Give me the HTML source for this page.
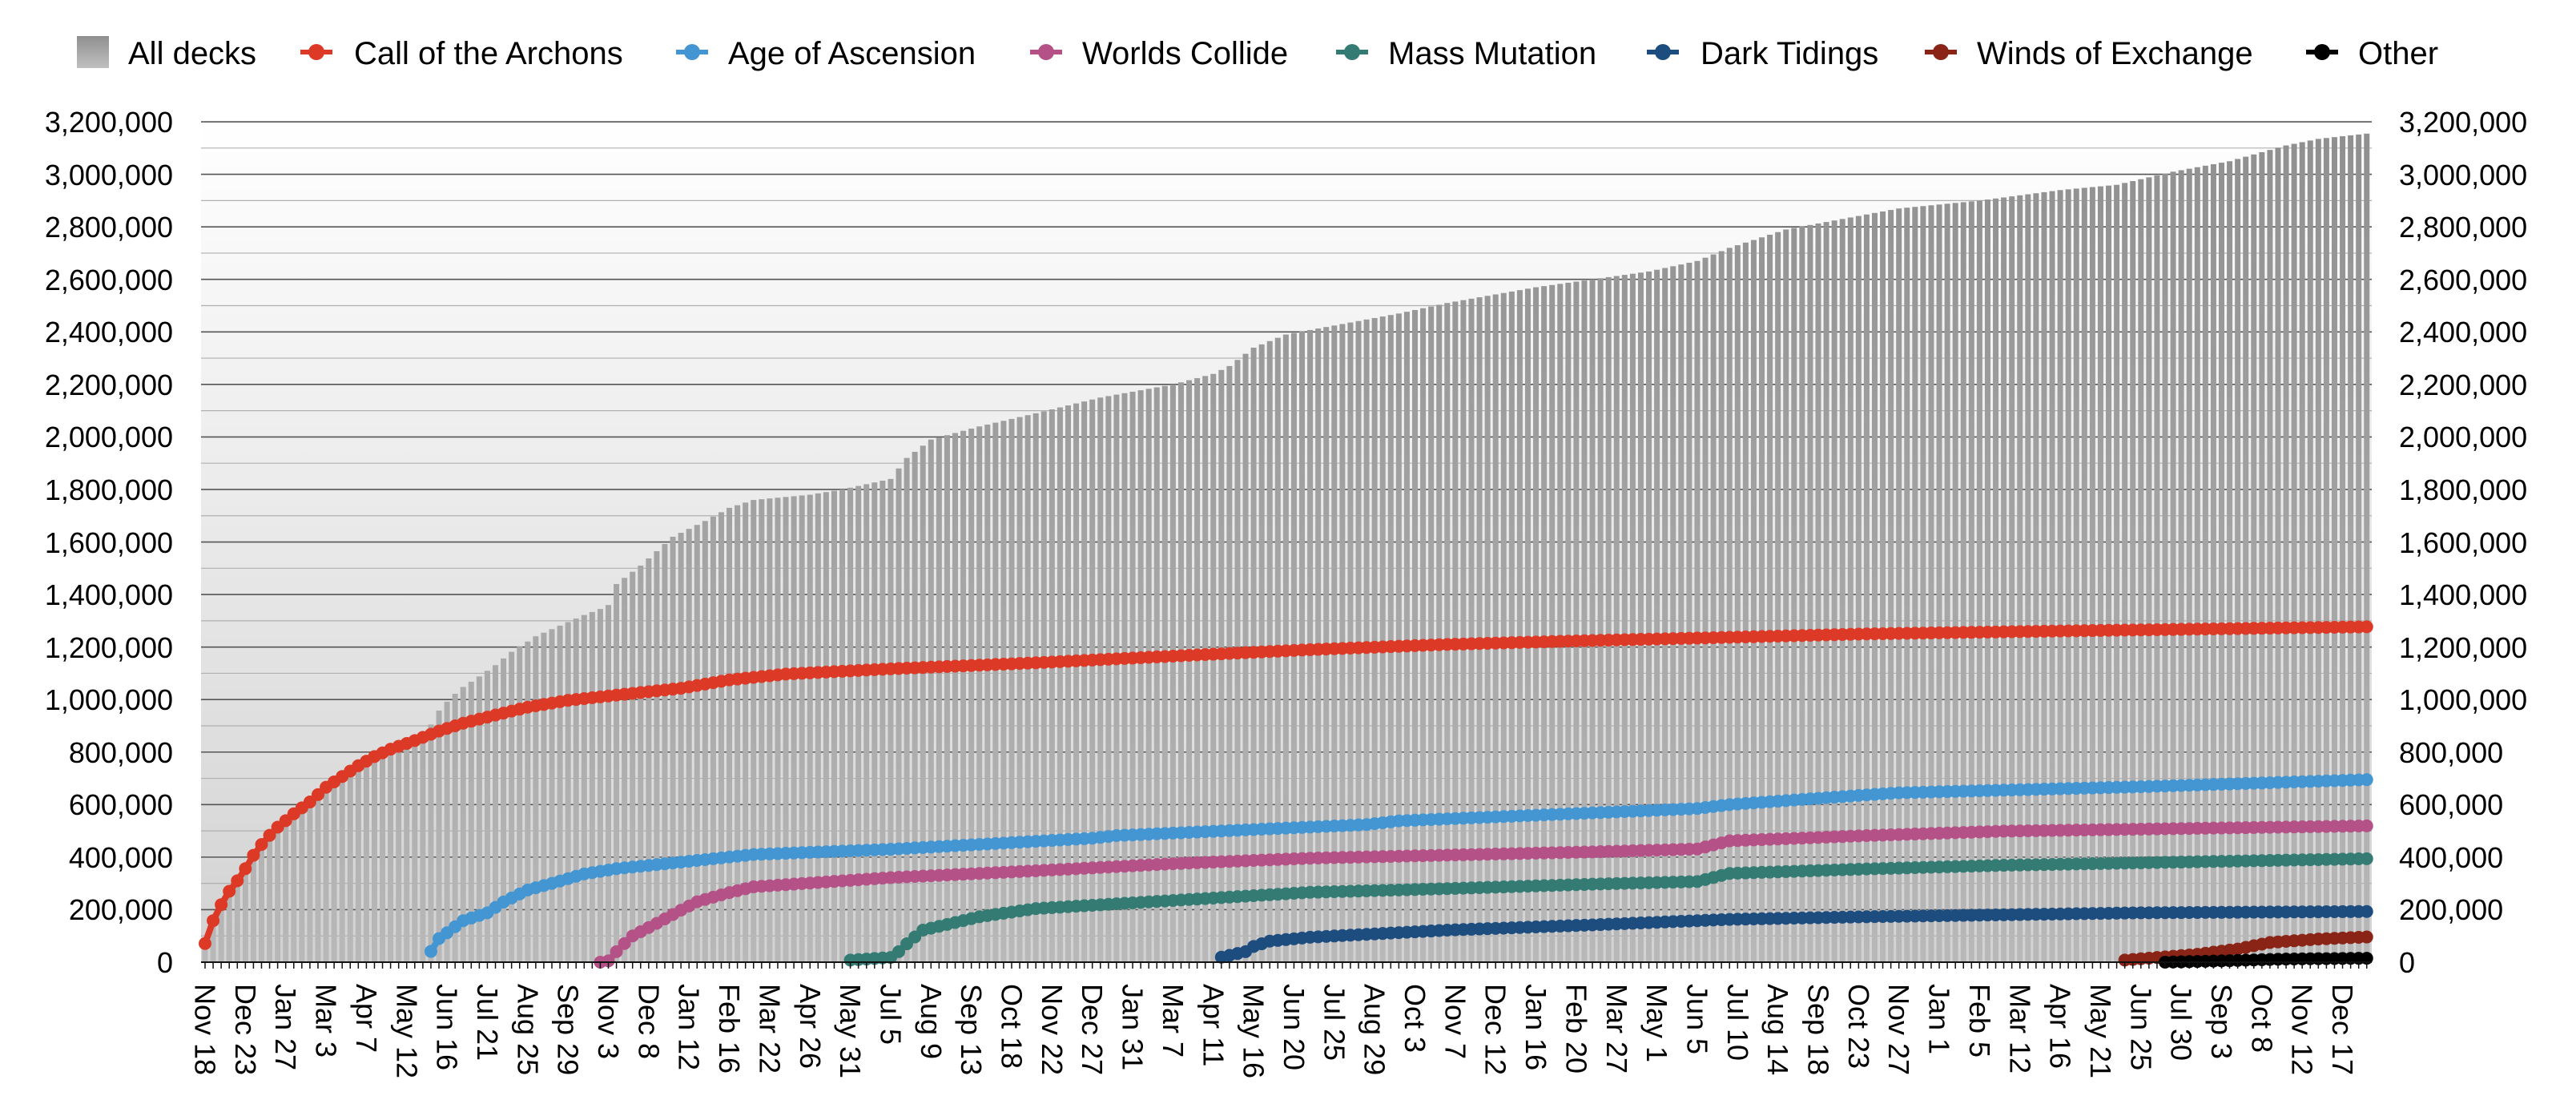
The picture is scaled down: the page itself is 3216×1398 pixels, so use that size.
<!DOCTYPE html>
<html><head><meta charset="utf-8"><style>
html,body{margin:0;padding:0;background:#fff;width:3216px;height:1398px;overflow:hidden}
svg{display:block;font-family:"Liberation Sans",Arial,sans-serif}
</style></head><body>
<svg id="c" width="3216" height="1398" viewBox="0 0 3216 1398" xmlns="http://www.w3.org/2000/svg">
<defs>
<linearGradient id="bg" x1="0" y1="0" x2="0" y2="1"><stop offset="0" stop-color="#ffffff"/><stop offset="1" stop-color="#d2d2d2"/></linearGradient>
<linearGradient id="bar" gradientUnits="userSpaceOnUse" x1="0" y1="152" x2="0" y2="1201"><stop offset="0" stop-color="#8f8f8f"/><stop offset="1" stop-color="#b8b8b8"/></linearGradient>
<linearGradient id="leg" x1="0" y1="0" x2="0" y2="1"><stop offset="0" stop-color="#8f8f8f"/><stop offset="1" stop-color="#c0c0c0"/></linearGradient>
</defs>
<rect x="251" y="152" width="2710" height="1049" fill="url(#bg)"/>
<g id="grid"></g>
<g id="bars"></g>
<g id="series"></g>
<g id="ticks"></g>
<line x1="251" y1="1201" x2="2961" y2="1201" stroke="#111" stroke-width="2"/>

<g font-size="40" fill="#000">
<rect x="96" y="45" width="40" height="40" fill="url(#leg)"/>
<text x="160" y="80">All decks</text>
<line x1="375" y1="65" x2="415" y2="65" stroke="#dc3a26" stroke-width="6"/><circle cx="395" cy="65" r="10" fill="#dc3a26"/>
<text x="442" y="80">Call of the Archons</text>
<line x1="844" y1="65" x2="884" y2="65" stroke="#4396d2" stroke-width="6"/><circle cx="864" cy="65" r="10" fill="#4396d2"/>
<text x="909" y="80">Age of Ascension</text>
<line x1="1286" y1="65" x2="1326" y2="65" stroke="#b45287" stroke-width="6"/><circle cx="1306" cy="65" r="10" fill="#b45287"/>
<text x="1351" y="80">Worlds Collide</text>
<line x1="1668" y1="65" x2="1708" y2="65" stroke="#347b74" stroke-width="6"/><circle cx="1688" cy="65" r="10" fill="#347b74"/>
<text x="1733" y="80">Mass Mutation</text>
<line x1="2056" y1="65" x2="2096" y2="65" stroke="#1d4d7f" stroke-width="6"/><circle cx="2076" cy="65" r="10" fill="#1d4d7f"/>
<text x="2123" y="80">Dark Tidings</text>
<line x1="2403" y1="65" x2="2443" y2="65" stroke="#8a2416" stroke-width="6"/><circle cx="2423" cy="65" r="10" fill="#8a2416"/>
<text x="2468" y="80">Winds of Exchange</text>
<line x1="2879" y1="65" x2="2919" y2="65" stroke="#000" stroke-width="6"/><circle cx="2899" cy="65" r="10" fill="#000"/>
<text x="2944" y="80">Other</text>
</g>

<g font-size="36" fill="#000" text-anchor="end">
<text x="216" y="1214">0</text>
<text x="216" y="1148">200,000</text>
<text x="216" y="1083">400,000</text>
<text x="216" y="1017">600,000</text>
<text x="216" y="952">800,000</text>
<text x="216" y="886">1,000,000</text>
<text x="216" y="821">1,200,000</text>
<text x="216" y="755">1,400,000</text>
<text x="216" y="690">1,600,000</text>
<text x="216" y="624">1,800,000</text>
<text x="216" y="558">2,000,000</text>
<text x="216" y="493">2,200,000</text>
<text x="216" y="427">2,400,000</text>
<text x="216" y="362">2,600,000</text>
<text x="216" y="296">2,800,000</text>
<text x="216" y="231">3,000,000</text>
<text x="216" y="165">3,200,000</text>
</g>
<g font-size="36" fill="#000" text-anchor="start">
<text x="2995" y="1214">0</text>
<text x="2995" y="1148">200,000</text>
<text x="2995" y="1083">400,000</text>
<text x="2995" y="1017">600,000</text>
<text x="2995" y="952">800,000</text>
<text x="2995" y="886">1,000,000</text>
<text x="2995" y="821">1,200,000</text>
<text x="2995" y="755">1,400,000</text>
<text x="2995" y="690">1,600,000</text>
<text x="2995" y="624">1,800,000</text>
<text x="2995" y="558">2,000,000</text>
<text x="2995" y="493">2,200,000</text>
<text x="2995" y="427">2,400,000</text>
<text x="2995" y="362">2,600,000</text>
<text x="2995" y="296">2,800,000</text>
<text x="2995" y="231">3,000,000</text>
<text x="2995" y="165">3,200,000</text>
</g>

<g id="xl" font-size="36" fill="#000">
<text>Nov 18</text><text>Dec 23</text><text>Jan 27</text><text>Mar 3</text><text>Apr 7</text><text>May 12</text><text>Jun 16</text><text>Jul 21</text><text>Aug 25</text><text>Sep 29</text><text>Nov 3</text><text>Dec 8</text><text>Jan 12</text><text>Feb 16</text><text>Mar 22</text><text>Apr 26</text><text>May 31</text><text>Jul 5</text><text>Aug 9</text><text>Sep 13</text><text>Oct 18</text><text>Nov 22</text><text>Dec 27</text><text>Jan 31</text><text>Mar 7</text><text>Apr 11</text><text>May 16</text><text>Jun 20</text><text>Jul 25</text><text>Aug 29</text><text>Oct 3</text><text>Nov 7</text><text>Dec 12</text><text>Jan 16</text><text>Feb 20</text><text>Mar 27</text><text>May 1</text><text>Jun 5</text><text>Jul 10</text><text>Aug 14</text><text>Sep 18</text><text>Oct 23</text><text>Nov 27</text><text>Jan 1</text><text>Feb 5</text><text>Mar 12</text><text>Apr 16</text><text>May 21</text><text>Jun 25</text><text>Jul 30</text><text>Sep 3</text><text>Oct 8</text><text>Nov 12</text><text>Dec 17</text>
</g>
</svg>
<script>
(function(){
var NS="http://www.w3.org/2000/svg";
var X0=256, DX=10.07, Y0=1201, PX=65.56/200000, N=269;
function xw(i){return X0+i*DX;}
function yv(v){return Y0-v*PX;}
function interp(pts,i){
  if(i<pts[0][0])return null;
  for(var k=0;k<pts.length-1;k++){var a=pts[k],b=pts[k+1];if(i>=a[0]&&i<=b[0]){return a[1]+(b[1]-a[1])*(i-a[0])/(b[0]-a[0]);}}
  return pts[pts.length-1][1];
}
function el(n,a,p){var e=document.createElementNS(NS,n);for(var k in a)e.setAttribute(k,a[k]);p.appendChild(e);return e;}
var K=1000;
var red=[[0,71*K],[1,158*K],[2,219*K],[3,270*K],[4,310*K],[5,356*K],[6,407*K],[7,448*K],[8,483*K],[9,514*K],[10,539*K],[11,565*K],[13,610*K],[15,666*K],[17,707*K],[19,748*K],[21,783*K],[23,811*K],[26,844*K],[29,880*K],[32,910*K],[36,941*K],[40,971*K],[45,997*K],[51,1017*K],[59,1043*K],[65,1075*K],[72,1097*K],[85,1117*K],[103,1140*K],[123,1170*K],[137,1190*K],[154,1210*K],[172,1225*K],[189,1237*K],[206,1250*K],[232,1262*K],[268,1277*K]];
var total=[[28,905*K],[29,958*K],[30,992*K],[31,1022*K],[32,1048*K],[34,1088*K],[36,1131*K],[38,1182*K],[40,1221*K],[41,1241*K],[43,1268*K],[45,1295*K],[47,1322*K],[49,1345*K],[50,1360*K],[51,1440*K],[54,1510*K],[58,1620*K],[62,1680*K],[65,1730*K],[68,1760*K],[75,1780*K],[79,1800*K],[85,1840*K],[87,1920*K],[90,1990*K],[96,2040*K],[103,2090*K],[111,2150*K],[120,2200*K],[125,2240*K],[127,2270*K],[130,2340*K],[134,2390*K],[141,2430*K],[148,2470*K],[154,2510*K],[165,2570*K],[172,2600*K],[179,2630*K],[185,2670*K],[189,2720*K],[196,2790*K],[203,2830*K],[210,2870*K],[220,2900*K],[230,2940*K],[237,2960*K],[244,3010*K],[251,3050*K],[258,3110*K],[262,3135*K],[268,3155*K]];
var g=document.getElementById('grid');
for(var m=1;m<=32;m++){var y=Y0-m*100000*PX;el('line',{x1:251,x2:2961,y1:y,y2:y,stroke:(m%2==0)?'#555':'#b0b0b0','stroke-width':(m%2==0)?1.6:1.2},g);}
var b=document.getElementById('bars');
for(var i=0;i<N;i++){var v=(i<28)?interp(red,i):interp(total,i);var y=yv(v);el('rect',{x:xw(i)-3.5,y:y,width:7,height:Y0-y,fill:'url(#bar)'},b);}
var t=document.getElementById('ticks');
for(var i=0;i<N;i++){el('line',{x1:xw(i),x2:xw(i),y1:Y0,y2:Y0+8,stroke:'#111','stroke-width':1.5},t);}
var series=[
['#dc3a26',red],
['#4396d2',[[28,41*K],[29,90*K],[30,112*K],[32,158*K],[35,188*K],[37,229*K],[40,275*K],[43,300*K],[47,336*K],[51,356*K],[59,381*K],[68,410*K],[85,430*K],[110,472*K],[113,482*K],[144,524*K],[148,538*K],[185,585*K],[189,600*K],[206,637*K],[210,645*K],[240,668*K],[268,695*K]]],
['#b45287',[[49,0],[50,5*K],[51,40*K],[52,71*K],[53,100*K],[56,148*K],[59,198*K],[61,230*K],[65,265*K],[68,287*K],[85,322*K],[103,348*K],[120,375*K],[137,396*K],[172,420*K],[185,431*K],[189,462*K],[206,482*K],[223,499*K],[268,519*K]]],
['#347b74',[[80,8*K],[85,18*K],[86,40*K],[87,70*K],[89,122*K],[96,173*K],[103,204*K],[120,235*K],[137,266*K],[154,280*K],[172,297*K],[185,307*K],[189,338*K],[206,355*K],[223,369*K],[268,394*K]]],
['#1d4d7f',[[126,19*K],[129,40*K],[130,60*K],[132,80*K],[137,95*K],[154,122*K],[172,142*K],[189,163*K],[206,173*K],[240,188*K],[268,193*K]]],
['#8a2416',[[238,8*K],[247,30*K],[252,50*K],[256,75*K],[262,88*K],[268,96*K]]],
['#000000',[[243,0],[250,5*K],[258,12*K],[268,15*K]]]
];
var s=document.getElementById('series');
series.forEach(function(sr){
  var col=sr[0],pts=sr[1],start=Math.ceil(pts[0][0]);
  var gg=el('g',{},s);
  var pl=el('polyline',{fill:'none',stroke:col,'stroke-width':8,'stroke-linejoin':'round'},gg);
  var arr=[];
  for(var i=start;i<N;i++){var v=interp(pts,i);arr.push(xw(i).toFixed(1)+','+yv(v).toFixed(1));el('circle',{cx:xw(i),cy:yv(v),r:8,fill:col},gg);}
  pl.setAttribute('points',arr.join(' '));
});
var xl=document.getElementById('xl').children;
for(var j=0;j<xl.length;j++){var x=xw(j*5);xl[j].setAttribute('x',x);xl[j].setAttribute('y',1228);xl[j].setAttribute('transform','rotate(90 '+x+' 1228)');xl[j].setAttribute('dominant-baseline','central');}
})();
</script>
</body></html>
